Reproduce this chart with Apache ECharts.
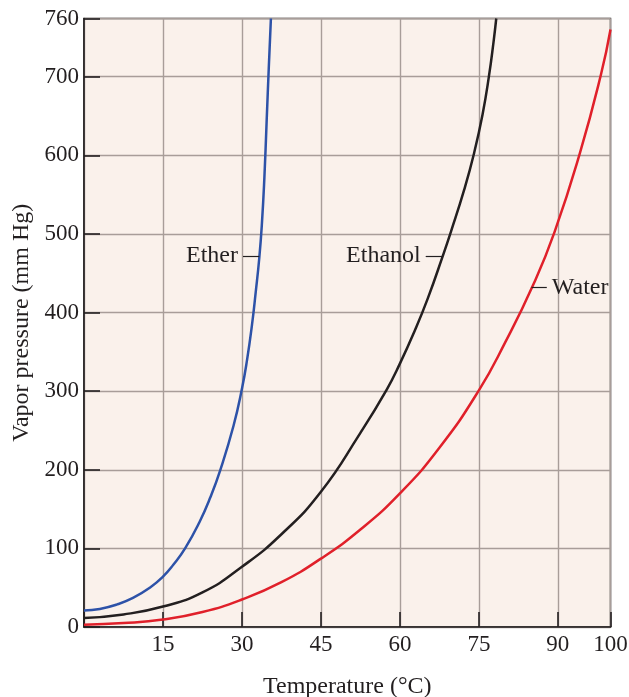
<!DOCTYPE html>
<html>
<head>
<meta charset="utf-8">
<script src="https://cdn.jsdelivr.net/npm/echarts@6/dist/echarts.min.js"></script>
<style>html,body{margin:0;padding:0;background:#fff;}#c{width:629px;height:697px;}</style>
</head>
<body>
<div id="c"></div>
<script>
// Temperature (°C) vs vapor pressure (mm Hg)
const etherData = [[0,21],[3,23],[6.2,28.5],[9.3,37],[12.5,50],[15,64],[17,79.5],[19.2,100],[21.9,133],[24,165],[25.9,200],[28.4,256],[30,303],[31,341],[31.9,384],[32.6,425],[33.3,470],[33.8,514],[34.25,570],[34.7,645],[35.1,712],[35.5,774]];
const ethanolData = [[0,11.5],[7.5,16],[15,26],[22.5,44],[30,76.6],[37.5,118],[45,172],[52.5,247],[57.5,302],[60,335],[62.7,375],[65.3,418],[68.2,473],[69.7,503],[72.2,556],[74.1,603],[75.7,652],[76.9,700],[77.8,745],[78.3,774]];
const waterData = [[0,3],[7.5,5],[15,9.5],[22.5,19],[30,35],[37.5,57],[45,87],[52.5,124],[60,170],[67.5,228],[75,301],[80,362],[85.3,435],[89.4,503],[94.2,603],[98.2,703],[100,760]];
const seriesNames = ['Ether','Ethanol','Water'];
const xTickInterval = 15;
const xMax = 100;
const yTickInterval = 100;
const yMax = 774;          // top edge of the drawn scale
const yTopLabel = '760';   // label printed at the top edge
// label leader lines: [x start, x end, y]
const etherLeader = [30.2, 33.3, 472];
const ethanolLeader = [64.9, 68.1, 472];
const waterLeader = [85.0, 87.9, 432];

const FONT = 'Liberation Serif';
const TXT = '#231f20';
const chart = echarts.init(document.getElementById('c'), null, {renderer:'canvas'});

function leader(seg, name, pos){
  return {
    silent: true, symbol: 'none', animation: false,
    lineStyle: {color: TXT, width: 1.2, type: 'solid'},
    label: {show: true, position: pos, formatter: name, color: TXT, fontFamily: FONT, fontSize: 24, distance: 5},
    emphasis: {disabled: true},
    data: [[{coord: [seg[0], seg[2]]}, {coord: [seg[1], seg[2]]}]]
  };
}
function line(name, data, color, seg, pos){
  return {
    name: name, type: 'line', data: data, showSymbol: false, symbol: 'none',
    smooth: 0.5, clip: true,
    lineStyle: {color: color, width: 2.5},
    emphasis: {disabled: true},
    markLine: leader(seg, name, pos)
  };
}
chart.setOption({
  animation: false,
  backgroundColor: '#ffffff',
  textStyle: {fontFamily: FONT, color: TXT},
  grid: {left: 84, right: 18.5, top: 18.5, bottom: 70, show: true,
         backgroundColor: '#faf1eb', borderColor: '#333333', borderWidth: 1.5,
         outerBoundsMode: 'none', containLabel: false},
  xAxis: {
    type: 'value', min: 0, max: xMax, interval: xTickInterval,
    name: 'Temperature (°C)', nameLocation: 'middle', nameGap: 48,
    nameTextStyle: {fontFamily: FONT, fontSize: 24, color: TXT},
    axisLine: {show: true, lineStyle: {color: TXT, width: 1.6}},
    axisTick: {show: true, inside: true, length: 15, lineStyle: {color: TXT, width: 1.6}},
    axisLabel: {color: TXT, fontFamily: FONT, fontSize: 23, margin: 6,
                formatter: v => v === 0 ? '' : String(v)},
    splitLine: {show: true, lineStyle: {color: '#a89d99', width: 1.4}}
  },
  yAxis: {
    type: 'value', min: 0, max: yMax, interval: yTickInterval,
    name: 'Vapor pressure (mm Hg)', nameLocation: 'middle', nameGap: 50, nameRotate: 90,
    nameTextStyle: {fontFamily: FONT, fontSize: 24, color: TXT},
    axisLine: {show: true, lineStyle: {color: TXT, width: 1.6}},
    axisTick: {show: true, inside: true, length: 16, lineStyle: {color: TXT, width: 1.6}},
    axisLabel: {color: TXT, fontFamily: FONT, fontSize: 23, margin: 5,
                formatter: v => v === yMax ? yTopLabel : String(v)},
    splitLine: {show: true, lineStyle: {color: '#a89d99', width: 1.4}}
  },
  series: [
    line(seriesNames[0], etherData, '#2d52a8', etherLeader, 'start'),
    line(seriesNames[1], ethanolData, '#231f20', ethanolLeader, 'start'),
    line(seriesNames[2], waterData, '#e0202a', waterLeader, 'end')
  ]
});
</script>
</body>
</html>
